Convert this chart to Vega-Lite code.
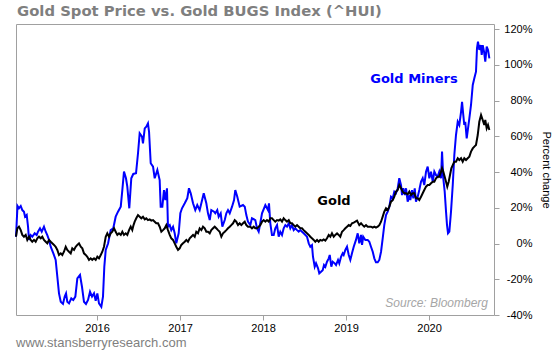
{
  "$schema": "https://vega.github.io/schema/vega-lite/v6.json",
  "width": 478,
  "height": 291,
  "autosize": {"type": "none"},
  "padding": {"left": 16, "top": 24, "right": 59, "bottom": 38},
  "background": "white",
  "title": {
    "text": "Gold Spot Price vs. Gold BUGS Index (^HUI)",
    "anchor": "start",
    "frame": "group",
    "font": "DejaVu Sans",
    "fontSize": 14.8,
    "fontWeight": "bold",
    "color": "#7f7f7f",
    "baseline": "alphabetic",
    "offset": -8,
    "dx": 1
  },
  "config": {
    "view": {"stroke": "#a0a0a0", "strokeWidth": 1},
    "axis": {"labelOverlap": false}
  },
  "datasets": {
    "miners": [
      {"t": 2015.024, "v": 3.8}, {"t": 2015.042, "v": 21}, {"t": 2015.06, "v": 19.7}, {"t": 2015.081, "v": 21}, {"t": 2015.1, "v": 18.7},
      {"t": 2015.12, "v": 17.8}, {"t": 2015.133, "v": 15}, {"t": 2015.153, "v": 16}, {"t": 2015.169, "v": 9.4}, {"t": 2015.181, "v": 2},
      {"t": 2015.201, "v": 4.7}, {"t": 2015.22, "v": 3.8}, {"t": 2015.249, "v": 5.7}, {"t": 2015.273, "v": 4.7}, {"t": 2015.289, "v": 6.6},
      {"t": 2015.313, "v": 8.5}, {"t": 2015.334, "v": 6.6}, {"t": 2015.361, "v": 9.4}, {"t": 2015.382, "v": 6.6}, {"t": 2015.401, "v": 4.7},
      {"t": 2015.422, "v": 2}, {"t": 2015.442, "v": -1.8}, {"t": 2015.474, "v": -5.5}, {"t": 2015.502, "v": -9.2}, {"t": 2015.522, "v": -18.6},
      {"t": 2015.542, "v": -27.9}, {"t": 2015.563, "v": -32.6}, {"t": 2015.59, "v": -33.8}, {"t": 2015.611, "v": -29.7}, {"t": 2015.627, "v": -27.9},
      {"t": 2015.642, "v": -32.6}, {"t": 2015.663, "v": -33.5}, {"t": 2015.69, "v": -30.7}, {"t": 2015.714, "v": -31.6}, {"t": 2015.739, "v": -29.7},
      {"t": 2015.763, "v": -19.5}, {"t": 2015.795, "v": -17.6}, {"t": 2015.819, "v": -24.2}, {"t": 2015.843, "v": -32.6}, {"t": 2015.867, "v": -33.8},
      {"t": 2015.892, "v": -31.6}, {"t": 2015.916, "v": -27}, {"t": 2015.94, "v": -29.7}, {"t": 2015.964, "v": -27.9}, {"t": 2015.984, "v": -32},
      {"t": 2016.004, "v": -27.9}, {"t": 2016.024, "v": -33.5}, {"t": 2016.052, "v": -35.4}, {"t": 2016.072, "v": -29.7}, {"t": 2016.088, "v": -13},
      {"t": 2016.105, "v": -3.6}, {"t": 2016.133, "v": 0}, {"t": 2016.165, "v": 7.5}, {"t": 2016.196, "v": 8.5}, {"t": 2016.225, "v": 15},
      {"t": 2016.253, "v": 17.8}, {"t": 2016.286, "v": 20.6}, {"t": 2016.305, "v": 29.9}, {"t": 2016.325, "v": 40.2}, {"t": 2016.349, "v": 36.5},
      {"t": 2016.365, "v": 31.8}, {"t": 2016.389, "v": 19.7}, {"t": 2016.413, "v": 36.5}, {"t": 2016.437, "v": 38.9}, {"t": 2016.47, "v": 39.3},
      {"t": 2016.494, "v": 50.5}, {"t": 2016.514, "v": 61.6}, {"t": 2016.542, "v": 59.8}, {"t": 2016.554, "v": 56}, {"t": 2016.575, "v": 64.4},
      {"t": 2016.594, "v": 65.3}, {"t": 2016.614, "v": 67.2}, {"t": 2016.627, "v": 62.5}, {"t": 2016.647, "v": 44.9}, {"t": 2016.675, "v": 43},
      {"t": 2016.695, "v": 36.5}, {"t": 2016.727, "v": 41.1}, {"t": 2016.755, "v": 35.5}, {"t": 2016.767, "v": 20.6}, {"t": 2016.787, "v": 20.6},
      {"t": 2016.807, "v": 29.9}, {"t": 2016.823, "v": 24.3}, {"t": 2016.843, "v": 30.9}, {"t": 2016.855, "v": 9.4}, {"t": 2016.876, "v": 10.3},
      {"t": 2016.895, "v": 7.5}, {"t": 2016.916, "v": 9.4}, {"t": 2016.936, "v": 5.7}, {"t": 2016.955, "v": 0.1}, {"t": 2016.984, "v": 5.7},
      {"t": 2017.004, "v": 16.9}, {"t": 2017.024, "v": 19.7}, {"t": 2017.057, "v": 22.5}, {"t": 2017.088, "v": 25.3}, {"t": 2017.108, "v": 30.9},
      {"t": 2017.129, "v": 28.1}, {"t": 2017.157, "v": 22.5}, {"t": 2017.184, "v": 18.7}, {"t": 2017.208, "v": 21.5}, {"t": 2017.237, "v": 18.7},
      {"t": 2017.257, "v": 22.5}, {"t": 2017.286, "v": 28.1}, {"t": 2017.317, "v": 22.5}, {"t": 2017.337, "v": 16.9}, {"t": 2017.358, "v": 13.1},
      {"t": 2017.377, "v": 18.7}, {"t": 2017.41, "v": 17.8}, {"t": 2017.425, "v": 16.9}, {"t": 2017.449, "v": 18.7}, {"t": 2017.466, "v": 15},
      {"t": 2017.49, "v": 16.9}, {"t": 2017.51, "v": 9.4}, {"t": 2017.539, "v": 13.1}, {"t": 2017.558, "v": 16.9}, {"t": 2017.578, "v": 18.7},
      {"t": 2017.599, "v": 16.9}, {"t": 2017.627, "v": 20.6}, {"t": 2017.651, "v": 24.3}, {"t": 2017.666, "v": 29.9}, {"t": 2017.69, "v": 26.2},
      {"t": 2017.719, "v": 20.6}, {"t": 2017.759, "v": 21.5}, {"t": 2017.78, "v": 20.6}, {"t": 2017.799, "v": 15.9}, {"t": 2017.819, "v": 12.2},
      {"t": 2017.847, "v": 10.3}, {"t": 2017.867, "v": 14.1}, {"t": 2017.907, "v": 13.1}, {"t": 2017.928, "v": 8.5}, {"t": 2017.948, "v": 6.6},
      {"t": 2017.967, "v": 11.3}, {"t": 2017.988, "v": 16.9}, {"t": 2018.028, "v": 21.5}, {"t": 2018.06, "v": 18.7}, {"t": 2018.072, "v": 22.5},
      {"t": 2018.088, "v": 11.3}, {"t": 2018.108, "v": 4.8}, {"t": 2018.129, "v": 4.8}, {"t": 2018.148, "v": 8.5}, {"t": 2018.169, "v": 10.3},
      {"t": 2018.189, "v": 3.8}, {"t": 2018.208, "v": 6.6}, {"t": 2018.229, "v": 4.8}, {"t": 2018.249, "v": 8.5}, {"t": 2018.269, "v": 10.3},
      {"t": 2018.289, "v": 9.4}, {"t": 2018.31, "v": 11.3}, {"t": 2018.329, "v": 8.5}, {"t": 2018.349, "v": 10.3}, {"t": 2018.37, "v": 7.5},
      {"t": 2018.389, "v": 8.5}, {"t": 2018.41, "v": 7.5}, {"t": 2018.43, "v": 6.6}, {"t": 2018.449, "v": 7.5}, {"t": 2018.47, "v": 6.6},
      {"t": 2018.49, "v": 5.7}, {"t": 2018.51, "v": 4.8}, {"t": 2018.53, "v": 3.8}, {"t": 2018.551, "v": 0.1}, {"t": 2018.57, "v": -1.8},
      {"t": 2018.59, "v": -0.9}, {"t": 2018.602, "v": -7.4}, {"t": 2018.623, "v": -13}, {"t": 2018.639, "v": -11.1}, {"t": 2018.663, "v": -13.9},
      {"t": 2018.678, "v": -16.7}, {"t": 2018.699, "v": -15.8}, {"t": 2018.719, "v": -14.9}, {"t": 2018.735, "v": -12}, {"t": 2018.751, "v": -13},
      {"t": 2018.771, "v": -10.2}, {"t": 2018.792, "v": -8.3}, {"t": 2018.804, "v": -6.4}, {"t": 2018.823, "v": -13}, {"t": 2018.84, "v": -10.2},
      {"t": 2018.864, "v": -11.1}, {"t": 2018.88, "v": -12}, {"t": 2018.904, "v": -9.2}, {"t": 2018.919, "v": -11.1}, {"t": 2018.94, "v": -7.4},
      {"t": 2018.96, "v": -5.5}, {"t": 2018.972, "v": -6.4}, {"t": 2018.992, "v": -3.6}, {"t": 2019.012, "v": -1.8}, {"t": 2019.033, "v": -6.4},
      {"t": 2019.052, "v": -9.2}, {"t": 2019.072, "v": -5.5}, {"t": 2019.093, "v": -1.8}, {"t": 2019.12, "v": 2}, {"t": 2019.141, "v": 5.7},
      {"t": 2019.16, "v": 0.1}, {"t": 2019.181, "v": 4.8}, {"t": 2019.193, "v": -0.8}, {"t": 2019.208, "v": 3.8}, {"t": 2019.233, "v": 2},
      {"t": 2019.261, "v": 2}, {"t": 2019.281, "v": 1}, {"t": 2019.301, "v": -1.8}, {"t": 2019.322, "v": -4.6}, {"t": 2019.341, "v": -8.3},
      {"t": 2019.361, "v": -10.5}, {"t": 2019.382, "v": -10.5}, {"t": 2019.401, "v": -9.2}, {"t": 2019.422, "v": -4.6}, {"t": 2019.442, "v": 2.9},
      {"t": 2019.461, "v": 10.3}, {"t": 2019.482, "v": 15.9}, {"t": 2019.502, "v": 17.8}, {"t": 2019.522, "v": 20.6}, {"t": 2019.542, "v": 26.2},
      {"t": 2019.563, "v": 25.3}, {"t": 2019.582, "v": 29}, {"t": 2019.602, "v": 28.1}, {"t": 2019.623, "v": 30.9}, {"t": 2019.642, "v": 36.5},
      {"t": 2019.663, "v": 32.7}, {"t": 2019.675, "v": 27.1}, {"t": 2019.69, "v": 30.9}, {"t": 2019.711, "v": 27.1}, {"t": 2019.723, "v": 30.9},
      {"t": 2019.743, "v": 23.4}, {"t": 2019.763, "v": 27.1}, {"t": 2019.775, "v": 24.3}, {"t": 2019.795, "v": 29.9}, {"t": 2019.811, "v": 25.3},
      {"t": 2019.828, "v": 30.9}, {"t": 2019.843, "v": 23.4}, {"t": 2019.864, "v": 26.2}, {"t": 2019.883, "v": 29.9}, {"t": 2019.904, "v": 34.6},
      {"t": 2019.924, "v": 36.5}, {"t": 2019.943, "v": 32.7}, {"t": 2019.964, "v": 40.2}, {"t": 2019.984, "v": 43}, {"t": 2020.004, "v": 36.5},
      {"t": 2020.024, "v": 40.2}, {"t": 2020.045, "v": 34.6}, {"t": 2020.064, "v": 40.2}, {"t": 2020.084, "v": 38.3}, {"t": 2020.105, "v": 37.4},
      {"t": 2020.124, "v": 40.2}, {"t": 2020.145, "v": 36.5}, {"t": 2020.157, "v": 51.4}, {"t": 2020.172, "v": 36.5}, {"t": 2020.189, "v": 29},
      {"t": 2020.205, "v": 17.8}, {"t": 2020.217, "v": 10.3}, {"t": 2020.229, "v": 5.7}, {"t": 2020.245, "v": 6.6}, {"t": 2020.265, "v": 17.8},
      {"t": 2020.286, "v": 32.7}, {"t": 2020.305, "v": 49.5}, {"t": 2020.325, "v": 60.7}, {"t": 2020.346, "v": 68.1}, {"t": 2020.365, "v": 66.3},
      {"t": 2020.386, "v": 73.7}, {"t": 2020.398, "v": 79.3}, {"t": 2020.413, "v": 71.9}, {"t": 2020.425, "v": 66.3}, {"t": 2020.437, "v": 68.1},
      {"t": 2020.454, "v": 58.8}, {"t": 2020.47, "v": 64.4}, {"t": 2020.486, "v": 70}, {"t": 2020.506, "v": 77.5}, {"t": 2020.527, "v": 88.7},
      {"t": 2020.546, "v": 92.4}, {"t": 2020.566, "v": 96.1}, {"t": 2020.578, "v": 109.2}, {"t": 2020.59, "v": 112.9}, {"t": 2020.606, "v": 108.3},
      {"t": 2020.623, "v": 111}, {"t": 2020.635, "v": 105.5}, {"t": 2020.647, "v": 111}, {"t": 2020.663, "v": 107.3}, {"t": 2020.678, "v": 101.7},
      {"t": 2020.695, "v": 110.1}, {"t": 2020.711, "v": 108.3}, {"t": 2020.727, "v": 103.6}
    ],
    "gold": [
      {"t": 2015.024, "v": 3.8}, {"t": 2015.04, "v": 8.5}, {"t": 2015.06, "v": 9.4}, {"t": 2015.081, "v": 7.5}, {"t": 2015.1, "v": 4.8},
      {"t": 2015.12, "v": 3.8}, {"t": 2015.141, "v": 4.8}, {"t": 2015.16, "v": 2}, {"t": 2015.181, "v": 3.8}, {"t": 2015.201, "v": 2},
      {"t": 2015.22, "v": 1}, {"t": 2015.241, "v": 2}, {"t": 2015.261, "v": 1}, {"t": 2015.281, "v": 2.9}, {"t": 2015.301, "v": 3.8},
      {"t": 2015.322, "v": 2.9}, {"t": 2015.341, "v": 3.8}, {"t": 2015.361, "v": 2}, {"t": 2015.382, "v": 1}, {"t": 2015.401, "v": 0.1},
      {"t": 2015.422, "v": 2}, {"t": 2015.442, "v": 1}, {"t": 2015.461, "v": 0.1}, {"t": 2015.482, "v": -0.8}, {"t": 2015.502, "v": -1.8},
      {"t": 2015.522, "v": -3.6}, {"t": 2015.542, "v": -6.4}, {"t": 2015.563, "v": -5.5}, {"t": 2015.582, "v": -6.4}, {"t": 2015.602, "v": -4.6},
      {"t": 2015.623, "v": -1.8}, {"t": 2015.642, "v": -3.6}, {"t": 2015.663, "v": -4.6}, {"t": 2015.683, "v": -5.5}, {"t": 2015.702, "v": -2.7},
      {"t": 2015.723, "v": -3.6}, {"t": 2015.743, "v": -1.8}, {"t": 2015.763, "v": -0.8}, {"t": 2015.783, "v": 0.1}, {"t": 2015.804, "v": -1.8},
      {"t": 2015.823, "v": -2.7}, {"t": 2015.843, "v": -5.5}, {"t": 2015.864, "v": -6.4}, {"t": 2015.883, "v": -7.4}, {"t": 2015.904, "v": -9.2},
      {"t": 2015.924, "v": -8.3}, {"t": 2015.943, "v": -9.2}, {"t": 2015.964, "v": -8.3}, {"t": 2015.984, "v": -9.2}, {"t": 2016.004, "v": -7.4},
      {"t": 2016.024, "v": -8.3}, {"t": 2016.045, "v": -6.4}, {"t": 2016.064, "v": -4.6}, {"t": 2016.084, "v": -1.8}, {"t": 2016.105, "v": 3.8},
      {"t": 2016.124, "v": 5.7}, {"t": 2016.145, "v": 3.8}, {"t": 2016.165, "v": 5.7}, {"t": 2016.184, "v": 6.6}, {"t": 2016.205, "v": 8.5},
      {"t": 2016.225, "v": 6.6}, {"t": 2016.245, "v": 4.8}, {"t": 2016.265, "v": 5.7}, {"t": 2016.286, "v": 4.8}, {"t": 2016.305, "v": 6.6},
      {"t": 2016.325, "v": 4.8}, {"t": 2016.346, "v": 5.7}, {"t": 2016.365, "v": 4.8}, {"t": 2016.386, "v": 7.5}, {"t": 2016.406, "v": 9.4},
      {"t": 2016.425, "v": 7.5}, {"t": 2016.44, "v": 10.3}, {"t": 2016.454, "v": 12.2}, {"t": 2016.473, "v": 14.1}, {"t": 2016.494, "v": 15.9},
      {"t": 2016.514, "v": 15}, {"t": 2016.534, "v": 14.1}, {"t": 2016.554, "v": 15}, {"t": 2016.575, "v": 13.5}, {"t": 2016.594, "v": 14.1},
      {"t": 2016.614, "v": 13.1}, {"t": 2016.635, "v": 13.5}, {"t": 2016.654, "v": 12.8}, {"t": 2016.675, "v": 13.1}, {"t": 2016.695, "v": 12.2},
      {"t": 2016.714, "v": 11.3}, {"t": 2016.735, "v": 11.3}, {"t": 2016.755, "v": 9.4}, {"t": 2016.775, "v": 6.6}, {"t": 2016.795, "v": 7.5},
      {"t": 2016.816, "v": 8.5}, {"t": 2016.835, "v": 10.3}, {"t": 2016.855, "v": 7.5}, {"t": 2016.876, "v": 4.8}, {"t": 2016.895, "v": 2.9},
      {"t": 2016.916, "v": 2}, {"t": 2016.936, "v": 0.1}, {"t": 2016.955, "v": -1.8}, {"t": 2016.976, "v": -3.6}, {"t": 2016.996, "v": -2.7},
      {"t": 2017.016, "v": -0.8}, {"t": 2017.036, "v": 0.1}, {"t": 2017.057, "v": 1}, {"t": 2017.076, "v": 2}, {"t": 2017.096, "v": 1},
      {"t": 2017.117, "v": 2.9}, {"t": 2017.136, "v": 3.8}, {"t": 2017.157, "v": 4.8}, {"t": 2017.177, "v": 3.8}, {"t": 2017.196, "v": 6.6},
      {"t": 2017.217, "v": 5.7}, {"t": 2017.237, "v": 8.5}, {"t": 2017.257, "v": 7.5}, {"t": 2017.277, "v": 9.4}, {"t": 2017.298, "v": 8.5},
      {"t": 2017.317, "v": 6.6}, {"t": 2017.337, "v": 6.6}, {"t": 2017.358, "v": 5.7}, {"t": 2017.377, "v": 7.5}, {"t": 2017.398, "v": 8.5},
      {"t": 2017.418, "v": 9.4}, {"t": 2017.437, "v": 8.5}, {"t": 2017.458, "v": 7.5}, {"t": 2017.478, "v": 6.6}, {"t": 2017.498, "v": 3.8},
      {"t": 2017.518, "v": 5.7}, {"t": 2017.539, "v": 6.6}, {"t": 2017.558, "v": 7.5}, {"t": 2017.578, "v": 8.5}, {"t": 2017.599, "v": 9.4},
      {"t": 2017.618, "v": 10.3}, {"t": 2017.639, "v": 11.3}, {"t": 2017.659, "v": 13.1}, {"t": 2017.678, "v": 12.2}, {"t": 2017.699, "v": 10.3},
      {"t": 2017.719, "v": 11.3}, {"t": 2017.739, "v": 10.3}, {"t": 2017.759, "v": 11.3}, {"t": 2017.78, "v": 12.2}, {"t": 2017.799, "v": 10.3},
      {"t": 2017.819, "v": 9.4}, {"t": 2017.847, "v": 9.4}, {"t": 2017.867, "v": 8.5}, {"t": 2017.888, "v": 9.4}, {"t": 2017.907, "v": 8.5},
      {"t": 2017.928, "v": 8.5}, {"t": 2017.948, "v": 9.4}, {"t": 2017.967, "v": 10.3}, {"t": 2017.988, "v": 12.2}, {"t": 2018.008, "v": 13.1},
      {"t": 2018.028, "v": 12.2}, {"t": 2018.048, "v": 13.1}, {"t": 2018.069, "v": 12.2}, {"t": 2018.088, "v": 14.1}, {"t": 2018.108, "v": 14.1},
      {"t": 2018.129, "v": 13.1}, {"t": 2018.148, "v": 12.2}, {"t": 2018.169, "v": 13.1}, {"t": 2018.189, "v": 12.8}, {"t": 2018.208, "v": 13.5},
      {"t": 2018.229, "v": 12.2}, {"t": 2018.249, "v": 14.1}, {"t": 2018.269, "v": 13.1}, {"t": 2018.289, "v": 12.2}, {"t": 2018.31, "v": 13.1},
      {"t": 2018.329, "v": 11.3}, {"t": 2018.349, "v": 11.3}, {"t": 2018.37, "v": 10.3}, {"t": 2018.389, "v": 9.4}, {"t": 2018.41, "v": 10.3},
      {"t": 2018.43, "v": 9.4}, {"t": 2018.449, "v": 8.5}, {"t": 2018.47, "v": 8.5}, {"t": 2018.49, "v": 7.5}, {"t": 2018.51, "v": 6.6},
      {"t": 2018.53, "v": 5.7}, {"t": 2018.551, "v": 4.8}, {"t": 2018.57, "v": 3.8}, {"t": 2018.59, "v": 2.9}, {"t": 2018.611, "v": 2},
      {"t": 2018.63, "v": 1}, {"t": 2018.651, "v": 2}, {"t": 2018.671, "v": 1}, {"t": 2018.69, "v": 2}, {"t": 2018.711, "v": 1.6},
      {"t": 2018.731, "v": 2.3}, {"t": 2018.751, "v": 1.6}, {"t": 2018.771, "v": 2.9}, {"t": 2018.792, "v": 4.8}, {"t": 2018.811, "v": 3.8},
      {"t": 2018.831, "v": 5.7}, {"t": 2018.852, "v": 3.8}, {"t": 2018.871, "v": 4.8}, {"t": 2018.892, "v": 5.7}, {"t": 2018.912, "v": 4.8},
      {"t": 2018.931, "v": 3.8}, {"t": 2018.952, "v": 6.6}, {"t": 2018.972, "v": 7.5}, {"t": 2018.992, "v": 8.5}, {"t": 2019.012, "v": 9.4},
      {"t": 2019.033, "v": 10.3}, {"t": 2019.052, "v": 9.8}, {"t": 2019.072, "v": 11.3}, {"t": 2019.093, "v": 11.7}, {"t": 2019.112, "v": 12.2},
      {"t": 2019.133, "v": 12.8}, {"t": 2019.16, "v": 10.3}, {"t": 2019.181, "v": 11.3}, {"t": 2019.201, "v": 10.3}, {"t": 2019.22, "v": 9.4},
      {"t": 2019.241, "v": 10.3}, {"t": 2019.261, "v": 9.4}, {"t": 2019.281, "v": 9.4}, {"t": 2019.301, "v": 9.4}, {"t": 2019.322, "v": 8.9},
      {"t": 2019.341, "v": 9.4}, {"t": 2019.361, "v": 8.9}, {"t": 2019.382, "v": 9.4}, {"t": 2019.401, "v": 10.3}, {"t": 2019.422, "v": 12.2},
      {"t": 2019.442, "v": 15}, {"t": 2019.461, "v": 17.8}, {"t": 2019.482, "v": 19.7}, {"t": 2019.502, "v": 18.7}, {"t": 2019.522, "v": 20.6},
      {"t": 2019.542, "v": 23.4}, {"t": 2019.563, "v": 24.3}, {"t": 2019.582, "v": 26.2}, {"t": 2019.602, "v": 29}, {"t": 2019.623, "v": 29.9},
      {"t": 2019.642, "v": 32.7}, {"t": 2019.663, "v": 30.9}, {"t": 2019.683, "v": 29}, {"t": 2019.702, "v": 28.1}, {"t": 2019.723, "v": 28.1},
      {"t": 2019.743, "v": 27.5}, {"t": 2019.763, "v": 29}, {"t": 2019.783, "v": 27.1}, {"t": 2019.804, "v": 28.1}, {"t": 2019.823, "v": 28.1},
      {"t": 2019.843, "v": 25.3}, {"t": 2019.864, "v": 25.3}, {"t": 2019.883, "v": 24.3}, {"t": 2019.904, "v": 26.2}, {"t": 2019.924, "v": 28.1},
      {"t": 2019.943, "v": 29.9}, {"t": 2019.964, "v": 31.8}, {"t": 2019.984, "v": 32.7}, {"t": 2020.004, "v": 32.7}, {"t": 2020.024, "v": 33.7},
      {"t": 2020.045, "v": 34.6}, {"t": 2020.064, "v": 34.6}, {"t": 2020.084, "v": 36.5}, {"t": 2020.105, "v": 37.4}, {"t": 2020.124, "v": 37.4},
      {"t": 2020.145, "v": 40.2}, {"t": 2020.157, "v": 42.1}, {"t": 2020.172, "v": 40.2}, {"t": 2020.189, "v": 37.4}, {"t": 2020.205, "v": 34.6},
      {"t": 2020.22, "v": 31.8}, {"t": 2020.237, "v": 34.6}, {"t": 2020.253, "v": 38.3}, {"t": 2020.269, "v": 42.1}, {"t": 2020.286, "v": 43.9},
      {"t": 2020.305, "v": 45.8}, {"t": 2020.325, "v": 45.8}, {"t": 2020.346, "v": 47.7}, {"t": 2020.365, "v": 46.7}, {"t": 2020.386, "v": 47.7},
      {"t": 2020.406, "v": 45.8}, {"t": 2020.425, "v": 47.7}, {"t": 2020.446, "v": 46.7}, {"t": 2020.466, "v": 47.7}, {"t": 2020.486, "v": 48.6},
      {"t": 2020.506, "v": 51.4}, {"t": 2020.527, "v": 53.2}, {"t": 2020.546, "v": 54.2}, {"t": 2020.566, "v": 55.1}, {"t": 2020.587, "v": 60.7},
      {"t": 2020.606, "v": 68.1}, {"t": 2020.627, "v": 71.9}, {"t": 2020.647, "v": 69.1}, {"t": 2020.666, "v": 66.3}, {"t": 2020.678, "v": 69.1},
      {"t": 2020.695, "v": 64.4}, {"t": 2020.711, "v": 66.3}, {"t": 2020.727, "v": 63.5}
    ],
    "notes": [
      {"name": "Gold Miners", "t": 2019.819, "v": 92},
      {"name": "Gold", "t": 2018.855, "v": 23.8},
      {"name": "Source: Bloomberg", "t": 2020.711, "v": -33.3},
      {"name": "www.stansberryresearch.com", "t": 2015.024, "v": -55.7}
    ]
  },
  "encoding": {
    "x": {
      "field": "t", "type": "quantitative",
      "scale": {"domain": [2015.024, 2020.783], "nice": false, "zero": false},
      "axis": {
        "orient": "bottom", "values": [2016, 2017, 2018, 2019, 2020], "format": "d",
        "grid": false, "domain": false, "ticks": true, "tickColor": "#a0a0a0", "tickSize": 5,
        "labelPadding": 2, "labelFont": "Liberation Sans", "labelFontSize": 11, "labelColor": "#000000",
        "labelOverlap": false, "title": null
      }
    },
    "y": {
      "field": "v", "type": "quantitative",
      "scale": {"domain": [-40, 122.8], "nice": false, "zero": false},
      "axis": {
        "orient": "right", "values": [-40, -20, 0, 20, 40, 60, 80, 100, 120],
        "labelExpr": "datum.value + '%'", "labelOverlap": false,
        "grid": false, "domain": false, "ticks": true, "tickColor": "#a0a0a0", "tickSize": 5,
        "labelAlign": "right", "labelPadding": 33, "labelFont": "Liberation Sans", "labelFontSize": 11, "labelColor": "#000000",
        "title": "Percent change", "titleFont": "Liberation Sans", "titleFontSize": 11, "titleFontWeight": "normal",
        "titleColor": "#000000", "titleAngle": 90, "titlePadding": 8
      }
    }
  },
  "layer": [
    {
      "data": {"name": "miners"},
      "mark": {"type": "line", "color": "#0000ff", "strokeWidth": 2}
    },
    {
      "data": {"name": "gold"},
      "mark": {"type": "line", "color": "#000000", "strokeWidth": 2}
    },
    {
      "data": {"name": "notes"},
      "transform": [{"filter": "datum.name === 'Gold Miners'"}],
      "mark": {"type": "text", "font": "DejaVu Sans", "fontWeight": "bold", "fontSize": 13, "color": "#0000ff", "align": "center", "baseline": "middle"},
      "encoding": {"text": {"field": "name"}}
    },
    {
      "data": {"name": "notes"},
      "transform": [{"filter": "datum.name === 'Gold'"}],
      "mark": {"type": "text", "font": "DejaVu Sans", "fontWeight": "bold", "fontSize": 13, "color": "#000000", "align": "center", "baseline": "middle"},
      "encoding": {"text": {"field": "name"}}
    },
    {
      "data": {"name": "notes"},
      "transform": [{"filter": "datum.name === 'Source: Bloomberg'"}],
      "mark": {"type": "text", "font": "Liberation Sans", "fontStyle": "italic", "fontSize": 12, "color": "#a6a6a6", "align": "right", "baseline": "middle"},
      "encoding": {"text": {"field": "name"}}
    },
    {
      "data": {"name": "notes"},
      "transform": [{"filter": "datum.name === 'www.stansberryresearch.com'"}],
      "mark": {"type": "text", "font": "Liberation Sans", "fontSize": 13, "color": "#808080", "align": "left", "baseline": "middle"},
      "encoding": {"text": {"field": "name"}}
    }
  ]
}
